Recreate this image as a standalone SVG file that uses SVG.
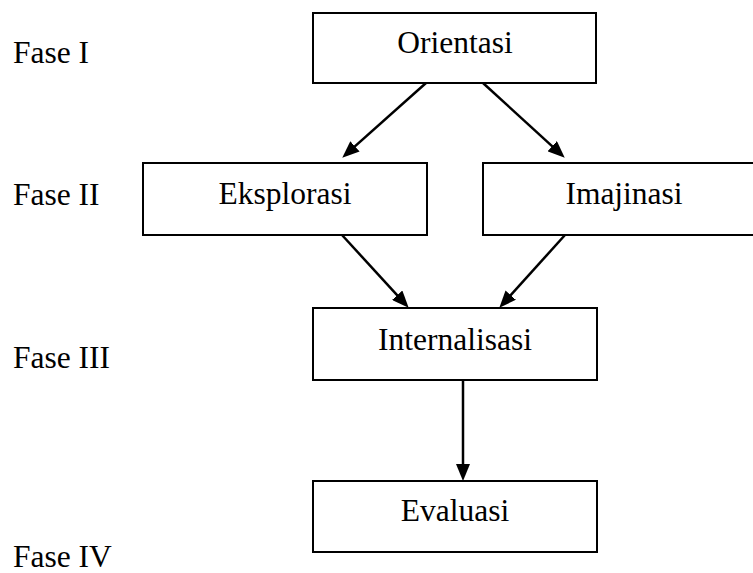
<svg xmlns="http://www.w3.org/2000/svg" width="753" height="573" viewBox="0 0 753 573">
<style>
.box{fill:#fff;stroke:#000;stroke-width:2}
.lbl{font-family:"Liberation Serif","Times New Roman",serif;font-size:31.5px;fill:#000}
.c{text-anchor:middle}
.arr{stroke:#000;stroke-width:2.5;fill:none;marker-end:url(#ah)}
</style>
<defs>
<marker id="ah" markerUnits="userSpaceOnUse" markerWidth="17" markerHeight="14" viewBox="0 0 17 14" refX="8" refY="7" orient="auto">
<path d="M0,0 L17,7 L0,14 z" fill="#000"/>
</marker>
</defs>
<rect width="753" height="573" fill="#fff"/>
<g id="phases">
<text class="lbl" x="13" y="63">Fase I</text>
<text class="lbl" x="13" y="205">Fase II</text>
<text class="lbl" x="13" y="368">Fase III</text>
<text class="lbl" x="13" y="567">Fase IV</text>
</g>
<g id="connectors">
<line class="arr" x1="426" y1="83" x2="348.97" y2="151.68"/>
<line class="arr" x1="483" y1="83" x2="558.09" y2="151.6"/>
<line class="arr" x1="342" y1="235" x2="402.59" y2="301.1"/>
<line class="arr" x1="565" y1="235" x2="505.36" y2="301.06"/>
<line class="arr" x1="463" y1="380" x2="463" y2="472"/>
</g>
<g id="orientasi">
<rect class="box" x="313" y="13" width="283" height="70"/>
<text class="lbl c" x="455" y="53">Orientasi</text>
</g>
<g id="eksplorasi">
<rect class="box" x="143" y="163" width="284" height="72"/>
<text class="lbl c" x="285" y="204">Eksplorasi</text>
</g>
<g id="imajinasi">
<rect class="box" x="483" y="163" width="284" height="72"/>
<text class="lbl c" x="624" y="204">Imajinasi</text>
</g>
<g id="internalisasi">
<rect class="box" x="313" y="308" width="284" height="72"/>
<text class="lbl c" x="455" y="350">Internalisasi</text>
</g>
<g id="evaluasi">
<rect class="box" x="313" y="481" width="284" height="71"/>
<text class="lbl c" x="455" y="521">Evaluasi</text>
</g>
</svg>
